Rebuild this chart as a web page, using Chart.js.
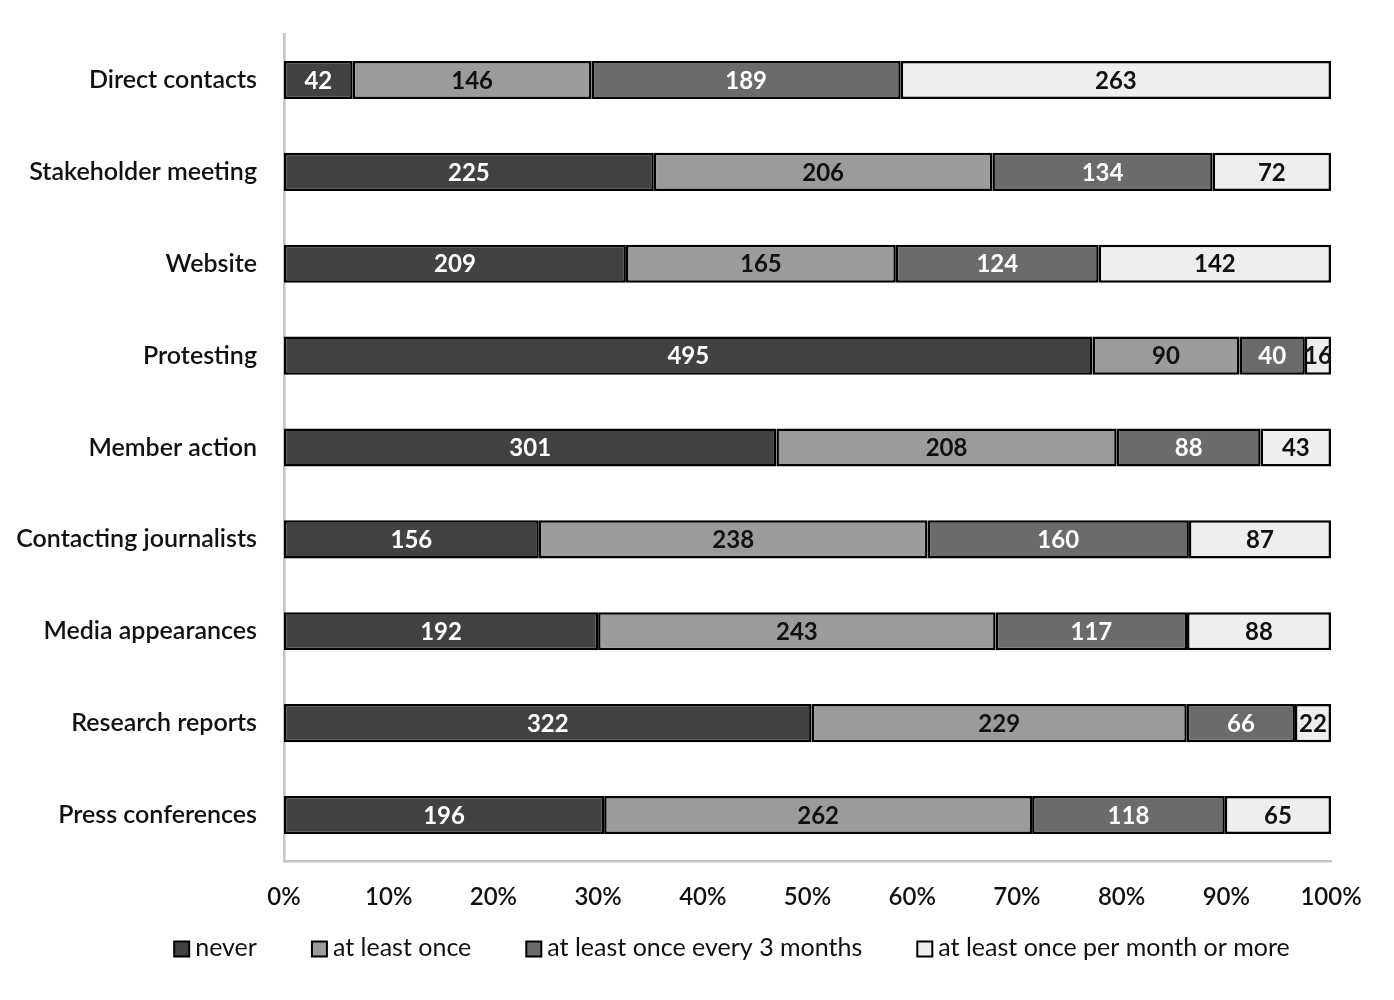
<!DOCTYPE html>
<html>
<head>
<meta charset="utf-8">
<script src="https://cdn.jsdelivr.net/npm/chart.js@4/dist/chart.umd.min.js"></script>
<style>
  html, body { margin: 0; padding: 0; background: #fff; }
  #wrap { width: 1394px; height: 1000px; }
</style>
</head>
<body>
<div id="wrap"><canvas id="chart" width="1394" height="1000"></canvas></div>
<script>
const categories = [
  'Direct contacts', 'Stakeholder meeting', 'Website', 'Protesting', 'Member action',
  'Contacting journalists', 'Media appearances', 'Research reports', 'Press conferences'
];
const seriesNames = ['never', 'at least once', 'at least once every 3 months', 'at least once per month or more'];
const never = [42, 225, 209, 495, 301, 156, 192, 322, 196];
const once = [146, 206, 165, 90, 208, 238, 243, 229, 262];
const every3 = [189, 134, 124, 40, 88, 160, 117, 66, 118];
const monthly = [263, 72, 142, 16, 43, 87, 88, 22, 65];
const tickLabels = ['0%', '10%', '20%', '30%', '40%', '50%', '60%', '70%', '80%', '90%', '100%'];

const fillColors = ['#424242', '#9b9b9b', '#6b6b6b', '#eeeeee'];
const labelColors = ['#ffffff', '#111111', '#ffffff', '#111111'];
const FONT = 'Lato, "Open Sans", sans-serif';

const counts = [never, once, every3, monthly];
const totals = categories.map((c, i) => never[i] + once[i] + every3[i] + monthly[i]);

// percent share of each row, so every bar runs to 100%
const datasets = counts.map((arr, s) => ({
  label: seriesNames[s],
  data: arr.map((v, i) => v / totals[i] * 100),
  raw: arr,
  backgroundColor: fillColors[s],
  borderColor: '#000',
  borderWidth: 2.5,
  borderSkipped: false,
  barPercentage: 0.83,
  categoryPercentage: 0.5
}));

// draws the counts inside each segment
const countLabels = {
  id: 'countLabels',
  afterDatasetsDraw(chart) {
    const ctx = chart.ctx;
    ctx.save();
    ctx.font = 'bold 24px ' + FONT;
    ctx.textAlign = 'center';
    ctx.textBaseline = 'middle';
    chart.data.datasets.forEach((ds, s) => {
      const meta = chart.getDatasetMeta(s);
      meta.data.forEach((bar, i) => {
        const x = (bar.x + bar.base) / 2;
        ctx.fillStyle = labelColors[s];
        ctx.fillText(String(ds.raw[i]), x, bar.y + 1);
      });
    });
    ctx.restore();
  }
};

// legend row under the axis, boxes close to their text
const bottomLegend = {
  id: 'bottomLegend',
  afterDraw(chart) {
    const ctx = chart.ctx;
    const y = 948, box = 15, textGap = 6, itemGap = 55;
    ctx.save();
    ctx.font = '25px ' + FONT;
    ctx.textBaseline = 'middle';
    const ds = chart.data.datasets;
    const widths = ds.map(d => ctx.measureText(d.label).width);
    let total = 0;
    widths.forEach((w, i) => { total += box + textGap + w + (i < widths.length - 1 ? itemGap : 0); });
    let x = 732 - total / 2;
    ds.forEach((d, i) => {
      ctx.fillStyle = d.backgroundColor;
      ctx.fillRect(x, y - box / 2 + 1, box, box);
      ctx.strokeStyle = '#000';
      ctx.lineWidth = 2;
      ctx.strokeRect(x, y - box / 2 + 1, box, box);
      ctx.fillStyle = '#111';
      ctx.fillText(d.label, x + box + textGap, y);
      x += box + textGap + widths[i] + itemGap;
    });
    ctx.restore();
  }
};

new Chart(document.getElementById('chart'), {
  type: 'bar',
  data: { labels: categories, datasets: datasets },
  plugins: [countLabels, bottomLegend],
  options: {
    indexAxis: 'y',
    responsive: false,
    animation: false,
    layout: { padding: { top: 33, right: 63, bottom: 79, left: 0 } },
    scales: {
      x: {
        stacked: true,
        min: 0,
        max: 100,
        ticks: {
          stepSize: 10,
          color: '#111',
          font: { family: FONT, size: 24, weight: '600' },
          padding: 14,
          callback: (v, i) => tickLabels[i]
        },
        grid: { display: false },
        border: { display: true, color: '#c4c4c4', width: 2.5 },
        afterFit: (scale) => { scale.height = 60; }
      },
      y: {
        stacked: true,
        ticks: {
          color: '#111',
          font: { family: FONT, size: 25, weight: '600' },
          padding: 19
        },
        grid: { display: false },
        border: { display: true, color: '#c4c4c4', width: 2.5 },
        afterFit: (scale) => { scale.width = 284; }
      }
    },
    plugins: {
      tooltip: { enabled: false },
      legend: { display: false }
    }
  }
});
</script>
</body>
</html>
